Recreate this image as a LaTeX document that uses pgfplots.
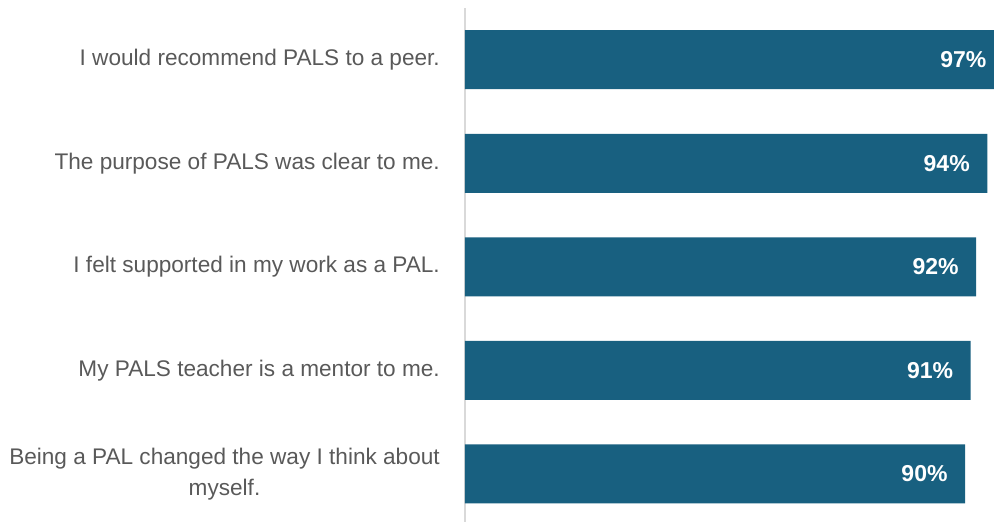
\documentclass[border=0pt]{standalone}
\usepackage{pgfplots}
\pgfplotsset{compat=1.18}
\usepackage{fontspec}
\setmainfont{Liberation Sans}
\definecolor{barblue}{RGB}{24,96,128}
\definecolor{labgray}{RGB}{89,89,89}
\definecolor{axgray}{RGB}{217,217,217}
\begin{document}
\begin{tikzpicture}
\begin{axis}[
  at={(465pt,0pt)}, anchor=south west,
  scale only axis,
  width=544.5pt, height=514pt,
  xmin=0, xmax=98,
  ymin=-0.466, ymax=4.5,
  xbar, bar width=0.57,
  axis x line=none,
  axis y line*=left,
  y axis line style={draw=axgray, line width=1.5pt, -},
  ytick={0,1,2,3,4},
  yticklabels={{Being a PAL changed the way I think about\\myself.},
    {My PALS teacher is a mentor to me.},
    {I felt supported in my work as a PAL.},
    {The purpose of PALS was clear to me.},
    {I would recommend PALS to a peer.}},
  major tick length=0pt,
  yticklabel style={anchor=east, inner sep=0pt, xshift=-25pt, align=center,
    text=labgray, font=\fontsize{22.6}{31}\selectfont},
  nodes near coords,
  point meta=explicit symbolic,
  nodes near coords style={anchor=east, xshift=-14pt, text=white,
    font=\fontsize{23}{27}\selectfont\bfseries},
]
\addplot[fill=barblue, draw=none] coordinates {
  (90,0) [90\%]
  (91,1) [91\%]
  (92,2) [92\%]
  (94,3) [94\%]
  (97,4) [97\%]
};
\end{axis}
\pgfresetboundingbox
\path[use as bounding box] (0,0) rectangle (994pt,522pt);
\end{tikzpicture}
\end{document}
